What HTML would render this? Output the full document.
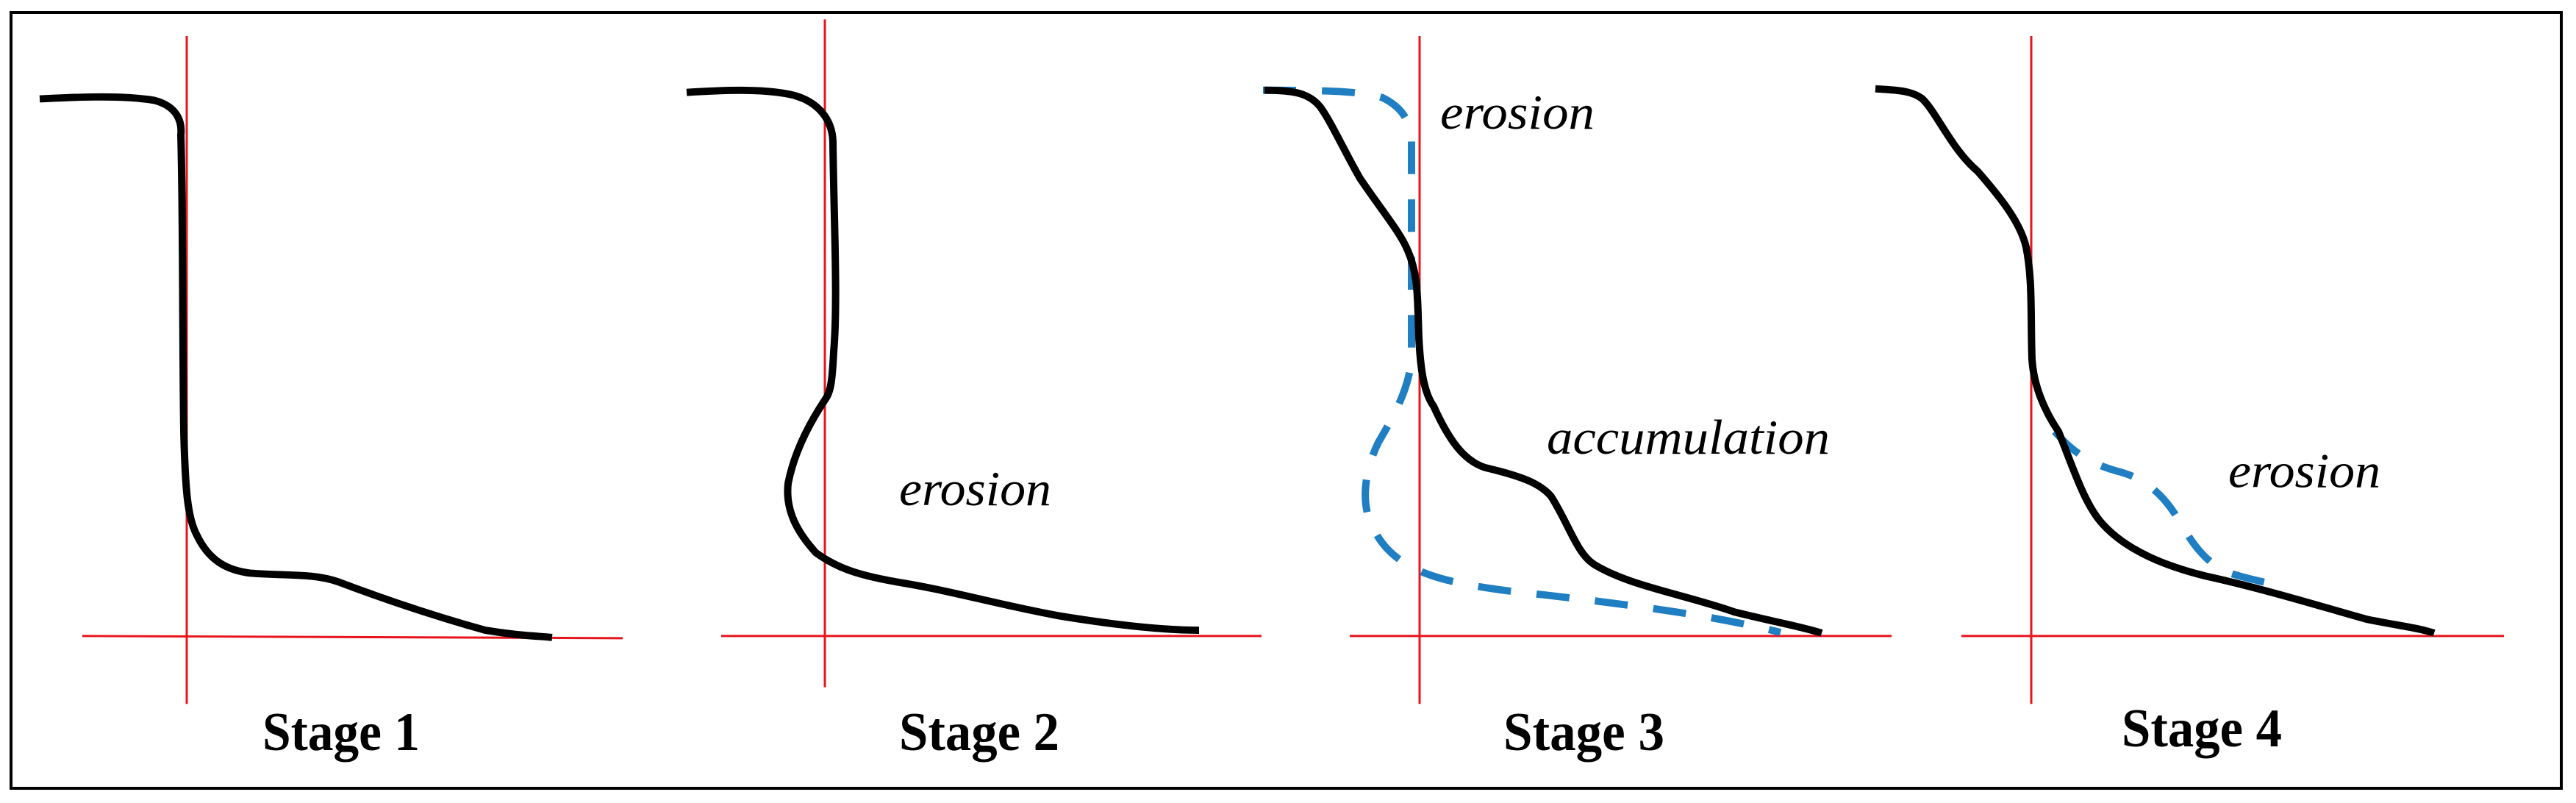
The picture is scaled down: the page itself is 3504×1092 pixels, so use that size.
<!DOCTYPE html>
<html><head><meta charset="utf-8"><style>
html,body{margin:0;padding:0;background:#fff;}
svg{display:block;}
</style></head><body>
<svg width="3504" height="1092" viewBox="0 0 3504 1092" xmlns="http://www.w3.org/2000/svg">
<rect x="0" y="0" width="3504" height="1092" fill="#fff"/>
<rect x="15" y="17" width="3469" height="1055" fill="none" stroke="#000" stroke-width="4"/>
<g transform="translate(0,49) scale(1,0.983) translate(0,-53)">
<g stroke="#e8141c" stroke-width="3" fill="none">
<line x1="254" y1="53" x2="254" y2="977"/>
<line x1="112" y1="883" x2="847" y2="886"/>
<line x1="1122" y1="30" x2="1122" y2="954"/>
<line x1="981" y1="883" x2="1716" y2="883"/>
<line x1="1931" y1="53" x2="1931" y2="977"/>
<line x1="1836" y1="883" x2="2573" y2="883"/>
<line x1="2763" y1="53" x2="2763" y2="977"/>
<line x1="2668" y1="883" x2="3406" y2="883"/>
</g>
<g stroke="#1f7fc2" stroke-width="10" fill="none" stroke-dasharray="45 35">
<path d="M1718,128 C1780,128 1850,128 1880,138 C1905,150 1920,170 1920,200 L1920,496 C1918,540 1895,580 1875,615 C1858,650 1852,690 1862,720 C1875,755 1895,775 1925,790 C1960,808 2020,818 2100,826 C2200,838 2320,852 2422,878"/>
<path d="M2795,600 C2820,630 2845,645 2880,655 C2920,665 2945,690 2965,725 C2985,760 3000,780 3030,795 C3060,805 3080,808 3095,812"/>
</g>
<g stroke="#000" stroke-width="10" fill="none" stroke-linecap="butt" stroke-linejoin="round">
<path d="M54,140 C110,137 170,135 210,142 C240,150 248,170 246,190 C249,300 248,450 250,600 C252,680 255,720 268,744 C285,780 310,792 340,796 C390,800 425,796 460,808 C530,835 600,858 660,875 C700,882 730,883 751,885"/>
<path d="M934,131 C980,128 1040,125 1080,135 C1115,145 1132,170 1133,199 C1134,300 1140,420 1134,490 C1132,530 1130,545 1123,555 C1100,590 1080,630 1072,672 C1068,710 1085,740 1110,768 C1140,790 1170,800 1230,810 C1300,822 1360,840 1440,855 C1530,870 1590,875 1631,875"/>
<path d="M1720,128 C1760,128 1780,132 1795,150 C1810,170 1830,215 1850,250 C1880,295 1905,325 1915,350 C1930,385 1928,420 1930,470 C1932,510 1936,545 1950,565 C1970,610 1990,640 2020,650 C2070,662 2095,672 2110,690 C2135,730 2145,770 2170,785 C2220,815 2290,825 2360,850 C2420,865 2450,870 2478,879"/>
<path d="M2551,126 C2580,128 2600,128 2615,140 C2635,160 2655,210 2690,240 C2720,275 2748,310 2756,345 C2765,390 2762,440 2764,500 C2766,535 2780,570 2800,600 C2820,650 2835,700 2860,728 C2890,762 2940,785 3000,800 C3080,818 3150,840 3220,860 C3270,870 3290,872 3311,879"/>
</g>
<g font-family="'Liberation Serif', serif" font-style="italic" font-size="68" fill="#000">
<text x="1223" y="702" textLength="207" lengthAdjust="spacingAndGlyphs">erosion</text>
<text x="1959" y="181" textLength="210" lengthAdjust="spacingAndGlyphs">erosion</text>
<text x="2104" y="631" textLength="385" lengthAdjust="spacingAndGlyphs">accumulation</text>
<text x="3031" y="677" textLength="207" lengthAdjust="spacingAndGlyphs">erosion</text>
</g>
</g>
<g font-family="'Liberation Serif', serif" font-weight="bold" font-size="74" fill="#000">
<text x="357" y="1020" textLength="214" lengthAdjust="spacingAndGlyphs">Stage 1</text>
<text x="1223" y="1020" textLength="218" lengthAdjust="spacingAndGlyphs">Stage 2</text>
<text x="2045" y="1020" textLength="219" lengthAdjust="spacingAndGlyphs">Stage 3</text>
<text x="2886" y="1015" textLength="218" lengthAdjust="spacingAndGlyphs">Stage 4</text>
</g>
</svg>
</body></html>
